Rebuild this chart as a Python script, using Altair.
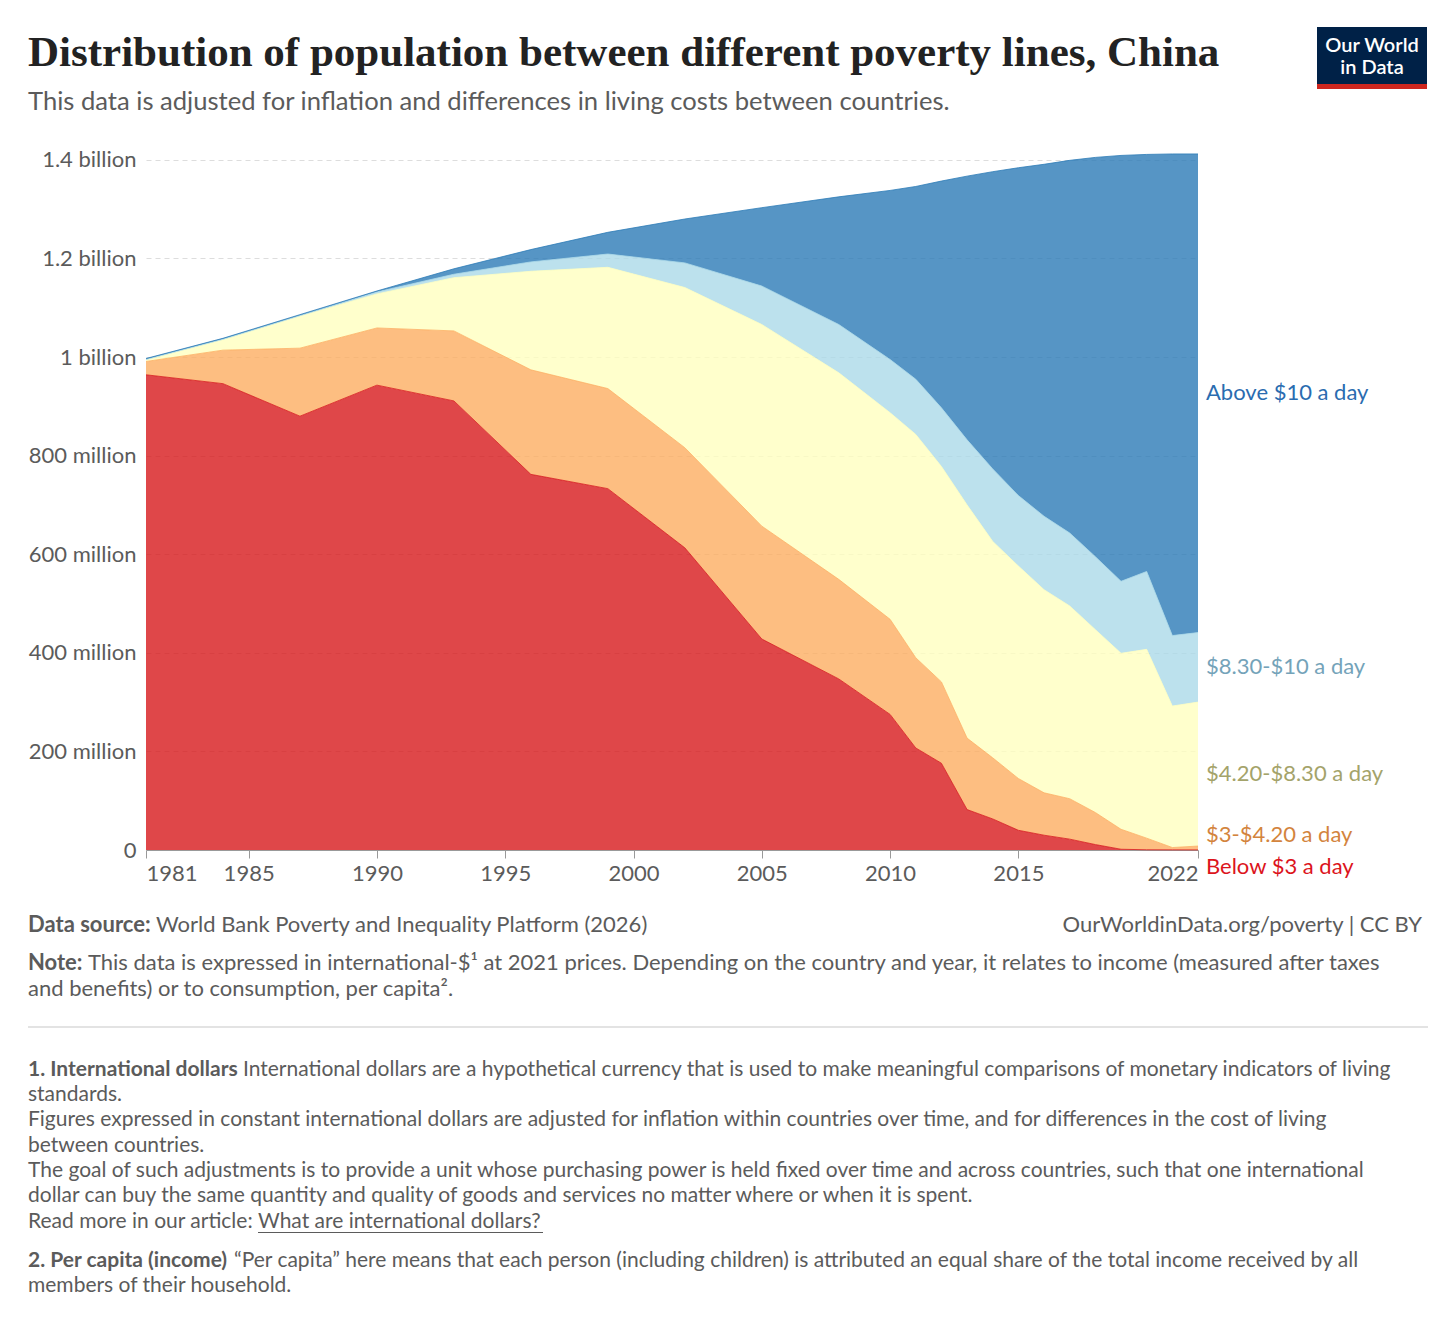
import altair as alt
import pandas as pd

# ---------------- data (millions of people) ----------------
years = [1981, 1984, 1987, 1990, 1993, 1996, 1999, 2002, 2005, 2008, 2010, 2011,
         2012, 2013, 2014, 2015, 2016, 2017, 2018, 2019, 2020, 2021, 2022]

below_3 = [964, 946, 880, 943, 911, 762, 733, 613, 428, 347, 275, 207,
           176, 82, 63, 40, 30, 22, 11, 1.5, 0.5, 0.3, 0.2]
from_3_to_4_20 = [27, 68, 138, 116, 142, 212, 203, 203, 229, 202, 193, 183,
                  165, 145, 124, 105, 86, 82, 65, 40.5, 23.5, 4.7, 7.8]
from_4_20_to_8_30 = [3, 21, 65, 69, 108, 200, 246, 325, 409, 419, 419, 453,
                     437, 473, 439, 431, 412, 391, 371, 357, 383, 287, 292]
from_8_30_to_10 = [1, 1, 1, 4, 7, 19, 27, 50, 78, 98, 108, 112,
                   119, 132, 147, 143, 149, 148, 148, 146, 158, 143, 141]
above_10 = [2, 2, 2, 2, 11, 25, 44, 89, 159, 259, 343, 391,
            460, 535, 603, 665, 714, 756, 810, 864, 846, 977, 971]

bands = ["Below $3 a day", "$3-$4.20 a day", "$4.20-$8.30 a day",
         "$8.30-$10 a day", "Above $10 a day"]
series = [below_3, from_3_to_4_20, from_4_20_to_8_30, from_8_30_to_10, above_10]

fill_colors = ["#d7191c", "#fdae61", "#ffffbf", "#abd9e9", "#2c7bb6"]
label_colors = ["#dc141c", "#d3843d", "#a4a36a", "#74a3b9", "#2a6cb0"]

x_ticks = [1981, 1985, 1990, 1995, 2000, 2005, 2010, 2015, 2022]
y_ticks = [0, 200e6, 400e6, 600e6, 800e6, 1000e6, 1200e6, 1400e6]

# ---------------- build stacked table ----------------
rows = []
for i, y in enumerate(years):
    base = 0.0
    for b, (name, vals) in enumerate(zip(bands, series)):
        v = vals[i] * 1e6
        rows.append({"year": y, "band": name, "order": b,
                     "lo": base, "hi": base + v, "mid": base + v / 2})
        base += v
df = pd.DataFrame(rows)

FONT = "Lato"
GREY = "#5b5b5b"

x_scale = alt.Scale(domain=[1981, 2022], nice=False, zero=False)
y_scale = alt.Scale(domain=[0, 1.42e9], nice=False)
col_scale = alt.Scale(domain=bands, range=fill_colors)

x_axis = alt.Axis(values=x_ticks, format="d", title=None, grid=False,
                  labelFont=FONT, labelFontSize=22, labelColor=GREY,
                  labelFlush=True, tickColor="#999", domainColor="#999",
                  tickSize=8, labelPadding=5)
y_axis = alt.Axis(values=y_ticks, title=None, domain=False, ticks=False,
                  labelFont=FONT, labelFontSize=22, labelColor=GREY,
                  labelPadding=10, gridColor="#dddddd", gridDash=[5, 4],
                  labelExpr="datum.value >= 1e9 ? format(datum.value/1e9, '.1~f') + ' billion' : (datum.value == 0 ? '0' : format(datum.value/1e6, 'd') + ' million')")

areas = alt.Chart(df).mark_area(opacity=0.8, interpolate="linear").encode(
    x=alt.X("year:Q", scale=x_scale, axis=x_axis),
    y=alt.Y("hi:Q", scale=y_scale, axis=y_axis),
    y2="lo:Q",
    color=alt.Color("band:N", scale=col_scale, legend=None),
    order=alt.Order("order:Q"),
)

lines = alt.Chart(df).mark_line(strokeWidth=0.8).encode(
    x=alt.X("year:Q", scale=x_scale),
    y=alt.Y("hi:Q", scale=y_scale),
    color=alt.Color("band:N", scale=col_scale, legend=None),
    detail="band:N",
)

layers = [areas, lines]

# end labels at 2022
last = df[df["year"] == 2022]
label_dy = [17, -13, 0, 0, 0]
for b, name in enumerate(bands):
    sub = last[last["band"] == name]
    layers.append(
        alt.Chart(sub).mark_text(align="left", baseline="middle", dx=8, dy=label_dy[b],
                                 font=FONT, fontSize=22, color=label_colors[b]).encode(
            x=alt.X("year:Q", scale=x_scale),
            y=alt.Y("mid:Q", scale=y_scale),
            text="band:N",
        )
    )


def txt(s, x, y, size=22, weight="normal", color=GREY, align="left",
        baseline="middle", font=FONT):
    return alt.Chart(pd.DataFrame({"t": [s]})).mark_text(
        align=align, baseline=baseline, font=font, fontSize=size,
        fontWeight=weight, color=color).encode(
        x=alt.value(x), y=alt.value(y), text="t:N")


def box(x1, x2, y1, y2, color):
    return alt.Chart(pd.DataFrame({"a": [0]})).mark_rect(color=color).encode(
        x=alt.value(x1), x2=alt.value(x2), y=alt.value(y1), y2=alt.value(y2))


# title & subtitle
layers.append(txt("Distribution of population between different poverty lines, China",
                  -118, -84, size=43, weight="bold", color="#222222",
                  baseline="alphabetic", font="Liberation Serif"))
layers.append(txt("This data is adjusted for inflation and differences in living costs between countries.",
                  -118, -48, size=25.6))

# logo
layers.append(box(1171, 1281, -123, -61, "#002147"))
layers.append(box(1171, 1281, -66, -61, "#ce261e"))
layers.append(txt("Our World", 1226, -104, size=20, weight=600, color="#ffffff", align="center"))
layers.append(txt("in Data", 1226, -82, size=20, weight=600, color="#ffffff", align="center"))

# sources & notes
layers.append(txt("Data source:", -118, 775, size=22, weight="bold"))
layers.append(txt("World Bank Poverty and Inequality Platform (2026)", 10, 775, size=22))
layers.append(txt("OurWorldinData.org/poverty | CC BY", 1276, 775, size=22, align="right"))
layers.append(txt("Note:", -118, 813, size=22, weight="bold"))
layers.append(txt("This data is expressed in international-$\u00b9 at 2021 prices. Depending on the country and year, it relates to income (measured after taxes",
                  -58, 813, size=22))
layers.append(txt("and benefits) or to consumption, per capita\u00b2.", -118, 839, size=22))
layers.append(box(-118, 1282, 876, 878, "#e3e3e3"))

FS = 21
layers.append(txt("1. International dollars", -118, 920, size=FS, weight="bold"))
layers.append(txt("International dollars are a hypothetical currency that is used to make meaningful comparisons of monetary indicators of living",
                  97, 920, size=FS))
layers.append(txt("standards.", -118, 945, size=FS))
layers.append(txt("Figures expressed in constant international dollars are adjusted for inflation within countries over time, and for differences in the cost of living",
                  -118, 970, size=FS))
layers.append(txt("between countries.", -118, 996, size=FS))
layers.append(txt("The goal of such adjustments is to provide a unit whose purchasing power is held fixed over time and across countries, such that one international",
                  -118, 1021, size=FS))
layers.append(txt("dollar can buy the same quantity and quality of goods and services no matter where or when it is spent.",
                  -118, 1046, size=FS))
layers.append(txt("Read more in our article:", -118, 1072, size=FS))
layers.append(txt("What are international dollars?", 112, 1072, size=FS))
layers.append(box(112, 397, 1082, 1083, GREY))
layers.append(txt("2. Per capita (income)", -118, 1111, size=FS, weight="bold"))
layers.append(txt("\u201cPer capita\u201d here means that each person (including children) is attributed an equal share of the total income received by all",
                  88, 1111, size=FS))
layers.append(txt("members of their household.", -118, 1136, size=FS))

chart = alt.layer(*layers).properties(
    width=1052, height=700,
    padding={"left": 138, "top": 142, "right": 250, "bottom": 460},
    autosize=alt.AutoSizeParams(type="none"),
    background="#ffffff",
).configure_view(stroke=None)

chart.save("out.html", embed_options={"renderer": "svg", "actions": False})
